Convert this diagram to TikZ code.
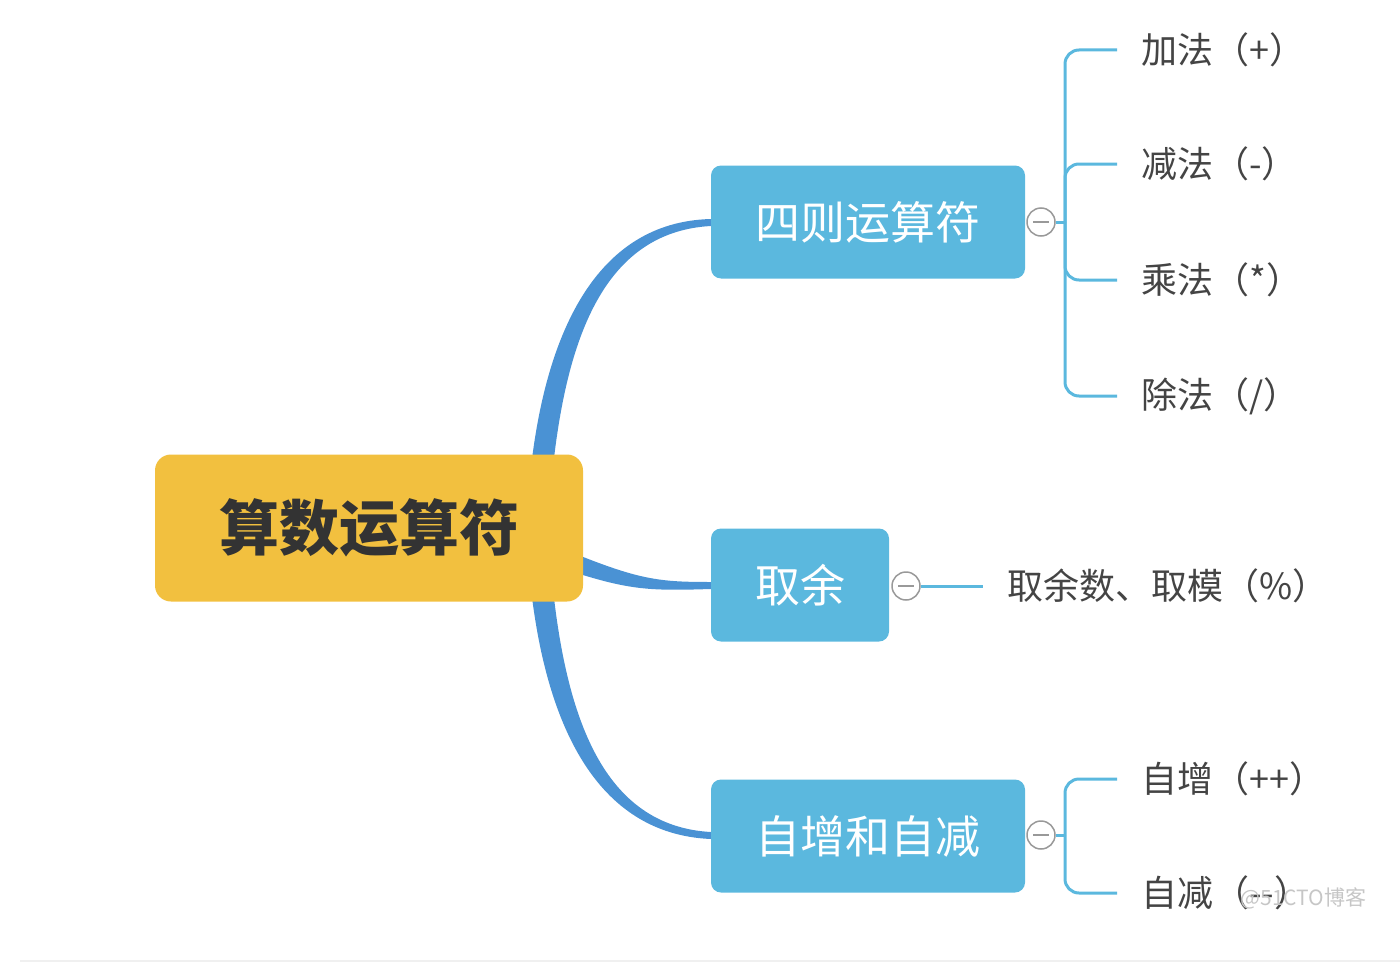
\documentclass[tikz,border=0pt]{standalone}
\usepackage{fontspec}
\newfontfamily\cjk{Noto Sans CJK SC}
\usetikzlibrary{backgrounds,calc}
\definecolor{rootc}{HTML}{F2C03F}
\definecolor{topicc}{HTML}{5BB8DE}
\definecolor{trunkc}{HTML}{4A92D4}
\definecolor{txtc}{HTML}{444444}
\begin{document}
\begin{tikzpicture}[x=1pt,y=-1pt,
root/.style={fill=rootc,rounded corners=16pt,minimum width=428pt,minimum height=147pt,font=\cjk\bfseries\fontsize{60}{62}\selectfont,text=black!80},
topic/.style={fill=topicc,rounded corners=10pt,minimum height=113pt,font=\cjk\fontsize{45}{47}\selectfont,text=white},
leaf/.style={anchor=west,inner xsep=24pt,font=\cjk\fontsize{36}{38}\selectfont,text=txtc},
fold/.style={circle,draw=gray!80,fill=white,line width=1.5pt,minimum size=28pt,inner sep=0pt,
  path picture={\draw[gray!80,line width=1.5pt]([xshift=-8pt]path picture bounding box.center)--([xshift=8pt]path picture bounding box.center);}},
twig/.style={topicc,line width=3pt,rounded corners=14pt},
trunk/.style={fill=trunkc}]
\useasboundingbox(0,0)rectangle(1400,963);
\node[root](root)at(369,528){算数运算符};
\node[topic,minimum width=314pt](sz)at(868,222){四则运算符};
\node[topic,minimum width=178pt](qy)at(800,585){取余};
\node[topic,minimum width=314pt](zz)at(868,836){自增和自减};
\node[fold](f1)at(1041,222){};
\node[fold](f2)at(906,586){};
\node[fold](f3)at(1041,835){};
\node[leaf](a1)at(1117,50){加法（+）};
\node[leaf](a2)at(1117,164){减法（-）};
\node[leaf](a3)at(1117,280){乘法（*）};
\node[leaf](a4)at(1117,396){除法（/）};
\node[leaf](b1)at(983,586){取余数、取模（\%）};
\node[leaf](c1)at(1117,779){自增（++）};
\node[leaf](c2)at(1117,893){自减（-{}-）};
\node[font=\cjk\fontsize{21}{22}\selectfont,text=gray!45,anchor=west](wm)at(1237,898){@51CTO博客};
% branches
\coordinate(k1)at(1065,222);
\coordinate(k3)at(1065,835);
\draw[twig](f1.east)--(k1);
\foreach \l in {a1,a2,a3,a4}\draw[twig](k1)|-(\l.west);
\draw[twig](f2.east)--(b1.west);
\draw[twig](f3.east)--(k3);
\foreach \l in {c1,c2}\draw[twig](k3)|-(\l.west);
\begin{pgfonlayer}{background}
\fill[trunk]($(root.north east)+(-53,20)$)..controls(545,335)and(595,222)..($(sz.west)+(0,-3)$)
  --($(sz.west)+(0,4)$)..controls(603,232)and(566,340)..($(root.north east)+(-31,20)$)--cycle;
\fill[trunk]($(root.east)+(-10,25)$)..controls(640,580)and(660,582)..($(qy.west)+(0,-3)$)
  --($(qy.west)+(0,4)$)..controls(650,591)and(630,590)..($(root.east)+(-10,44)$)--cycle;
\fill[trunk]($(root.south east)+(-53,-20)$)..controls(545,722)and(595,834)..($(zz.west)+(0,3)$)
  --($(zz.west)+(0,-4)$)..controls(603,826)and(566,717)..($(root.south east)+(-31,-20)$)--cycle;
\end{pgfonlayer}
\draw[gray!12,line width=2pt](20,961)--(1400,961);
\end{tikzpicture}
\end{document}
